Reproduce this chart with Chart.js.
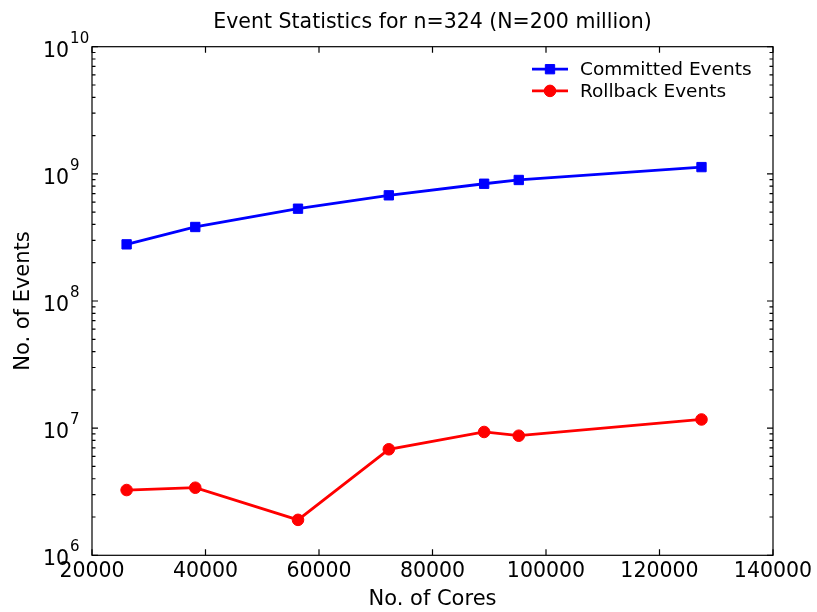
<!DOCTYPE html>
<html>
<head>
<meta charset="utf-8">
<script src="https://cdn.jsdelivr.net/npm/chart.js@4.4.1/dist/chart.umd.min.js"></script>
<style>
  html, body { margin: 0; padding: 0; background: #fff; }
  #wrap { width: 817px; height: 612px; }
</style>
</head>
<body>
<div id="wrap"><canvas id="myChart" width="817" height="612"></canvas></div>
<script>
// values
const cores = [26100, 38200, 56300, 72300, 89100, 95200, 127400];
const committed = [2.79e8, 3.82e8, 5.32e8, 6.78e8, 8.36e8, 8.95e8, 1.13e9];
const rollback = [3.26e6, 3.40e6, 1.90e6, 6.82e6, 9.33e6, 8.72e6, 1.17e7];
const xTicks = [20000, 40000, 60000, 80000, 100000, 120000, 140000];
const yExponents = [6, 7, 8, 9, 10];

const FONT = 'DejaVu Sans';

const toPoints = vals => vals.map((v, i) => ({ x: cores[i], y: v }));

// box, inward ticks, y labels with exponents
const frame = {
    id: 'frame',
    afterDraw(chart) {
        const { ctx, chartArea: a, scales: { x, y } } = chart;
        ctx.save();
        ctx.strokeStyle = '#000';
        ctx.lineWidth = 1.2;
        ctx.strokeRect(a.left, a.top, a.right - a.left, a.bottom - a.top);
        ctx.beginPath();
        xTicks.forEach(v => {
            const px = x.getPixelForValue(v);
            ctx.moveTo(px, a.bottom); ctx.lineTo(px, a.bottom - 6);
            ctx.moveTo(px, a.top); ctx.lineTo(px, a.top + 6);
        });
        yExponents.forEach((e, i) => {
            const py = y.getPixelForValue(10 ** e);
            ctx.moveTo(a.left, py); ctx.lineTo(a.left + 6, py);
            ctx.moveTo(a.right, py); ctx.lineTo(a.right - 6, py);
            if (i < yExponents.length - 1) {
                for (let m = 2; m <= 9; m++) {
                    const pm = y.getPixelForValue(m * 10 ** e);
                    ctx.moveTo(a.left, pm); ctx.lineTo(a.left + 3.5, pm);
                    ctx.moveTo(a.right, pm); ctx.lineTo(a.right - 3.5, pm);
                }
            }
        });
        ctx.stroke();

        ctx.fillStyle = '#000';
        ctx.textBaseline = 'alphabetic';
        ctx.textAlign = 'left';
        yExponents.forEach(e => {
            const py = y.getPixelForValue(10 ** e);
            ctx.font = `20.5px "${FONT}"`;
            ctx.fillText('10', a.left - 49, py + 10);
            const w = ctx.measureText('10').width;
            ctx.font = `15px "${FONT}"`;
            ctx.fillText(String(e), a.left - 49 + w + 1, py - 4);
        });
        ctx.restore();
    }
};

// legend box in the upper right of the plot
const legendBox = {
    id: 'legendBox',
    afterDraw(chart) {
        const { ctx, chartArea: a } = chart;
        ctx.save();
        chart.data.datasets.forEach((ds, i) => {
            const yy = a.top + 22.5 + i * 21.7;
            const x0 = a.right - 241;
            ctx.strokeStyle = ds.borderColor;
            ctx.fillStyle = ds.backgroundColor;
            ctx.lineWidth = ds.borderWidth;
            ctx.beginPath();
            ctx.moveTo(x0, yy); ctx.lineTo(x0 + 36, yy);
            ctx.stroke();
            ctx.lineWidth = 1;
            Chart.helpers.drawPoint(ctx, {
                pointStyle: ds.pointStyle, radius: ds.pointRadius, borderWidth: 1
            }, x0 + 18, yy);
            ctx.fillStyle = '#000';
            ctx.font = `18.5px "${FONT}"`;
            ctx.textBaseline = 'middle';
            ctx.textAlign = 'left';
            ctx.fillText(ds.label, x0 + 48, yy + 1);
        });
        ctx.restore();
    }
};

const ctx = document.querySelector('#myChart');

const myChart = new Chart(ctx, {
    type: 'line',
    data: {
        datasets: [{
            label: 'Committed Events',
            data: toPoints(committed),
            borderColor: '#0000ff',
            backgroundColor: '#0000ff',
            borderWidth: 2.8,
            pointStyle: 'rect',
            pointRadius: 6.6,
            pointBorderWidth: 1
        },
        {
            label: 'Rollback Events',
            data: toPoints(rollback),
            borderColor: '#ff0000',
            backgroundColor: '#ff0000',
            borderWidth: 2.8,
            pointStyle: 'circle',
            pointRadius: 5.8,
            pointBorderWidth: 1
        }]
    },
    options: {
        responsive: false,
        animation: false,
        layout: { padding: { left: 0, right: 44, top: 0, bottom: 0 } },
        plugins: {
            legend: { display: false },
            tooltip: { enabled: false },
            title: {
                display: true,
                fullSize: false,
                text: 'Event Statistics for n=324 (N=200 million)',
                color: '#000',
                font: { family: FONT, size: 20.5, weight: 'normal' },
                padding: { top: 10, bottom: 12.1 }
            }
        },
        scales: {
            x: {
                type: 'linear',
                min: 20000,
                max: 140000,
                afterBuildTicks: s => { s.ticks = xTicks.map(v => ({ value: v })); },
                afterFit: s => { s.height = 56.7; },
                grid: { display: false, drawTicks: false },
                border: { display: false },
                ticks: {
                    color: '#000',
                    padding: 4,
                    maxRotation: 0,
                    autoSkip: false,
                    font: { family: FONT, size: 20.5 },
                    callback: v => String(v)
                },
                title: {
                    display: true,
                    text: 'No. of Cores',
                    color: '#000',
                    font: { family: FONT, size: 21 },
                    padding: { top: 0, bottom: 0 }
                }
            },
            y: {
                type: 'logarithmic',
                min: 1e6,
                max: 1e10,
                afterFit: s => { s.width = 92; },
                grid: { display: false, drawTicks: false },
                border: { display: false },
                ticks: { display: false },
                title: {
                    display: true,
                    text: 'No. of Events',
                    color: '#000',
                    font: { family: FONT, size: 21 },
                    padding: { top: 11, bottom: 0 }
                }
            }
        }
    },
    plugins: [frame, legendBox]
});
</script>
</body>
</html>
